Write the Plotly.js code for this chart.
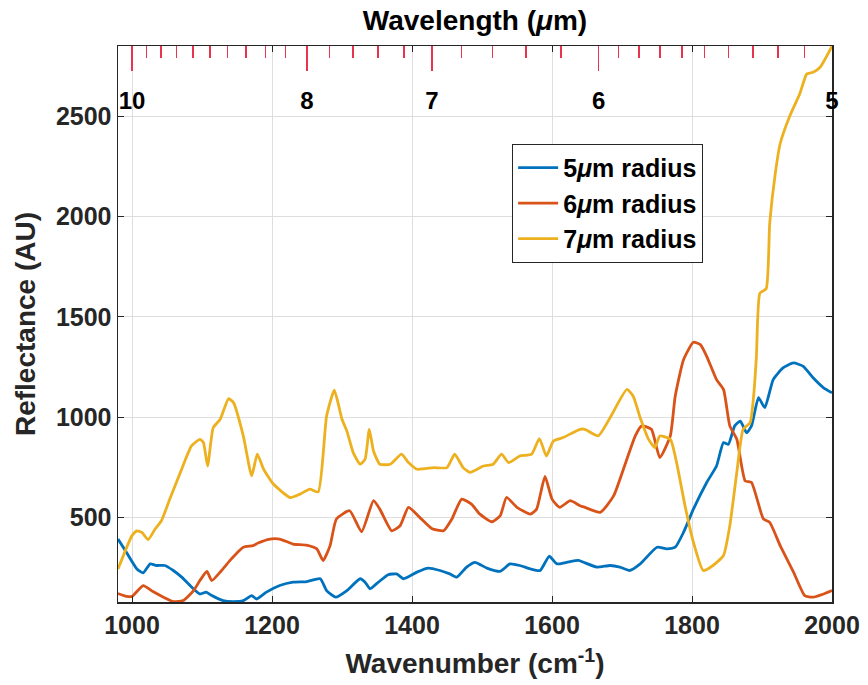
<!DOCTYPE html>
<html>
<head>
<meta charset="utf-8">
<script src="https://cdn.plot.ly/plotly-3.0.1.min.js"></script>
<style>html,body{margin:0;padding:0;background:#fff;}#chart{width:868px;height:685px;}</style>
</head>
<body>
<div id="chart"></div>
<script>
// ---- data ----
var wnBlue = [980,992,1007,1016,1026,1035,1047,1059,1071,1083,1097,1106,1114,1130,1145,1159,1171,1178,1192,1211,1230,1250,1269,1278,1291,1307,1326,1333,1340,1352,1366,1378,1388,1407,1423,1440,1454,1464,1478,1490,1507,1526,1540,1554,1569,1583,1596,1607,1621,1638,1645,1664,1683,1697,1711,1726,1750,1764,1776,1788,1802,1821,1835,1845,1852,1861,1869,1878,1885,1895,1904,1916,1930,1945,1959,1973,1988,2000];
var r5 = [392,326,243,223,268,260,260,235,202,160,118,127,110,85,80,85,110,93,127,160,177,180,194,135,102,135,194,177,144,177,214,218,194,227,247,235,218,202,252,276,247,231,268,260,243,235,306,268,276,285,276,252,260,252,235,268,351,343,351,426,541,674,756,873,864,956,980,922,956,1097,1047,1187,1245,1270,1253,1196,1146,1121];

var wnOrange = [980,992,1000,1016,1030,1045,1059,1073,1088,1097,1107,1114,1128,1142,1159,1173,1180,1197,1211,1230,1249,1264,1273,1283,1292,1311,1328,1345,1354,1371,1383,1395,1411,1428,1445,1457,1471,1485,1497,1514,1526,1535,1550,1569,1578,1590,1600,1611,1626,1640,1647,1669,1688,1702,1719,1728,1742,1754,1769,1776,1788,1802,1812,1821,1835,1845,1854,1864,1876,1885,1902,1911,1926,1945,1961,1973,1988,2000];
var r6 = [120,106,106,160,130,102,80,85,135,185,230,185,235,293,351,359,372,392,392,367,362,343,285,359,492,533,428,583,541,433,458,550,500,445,433,492,591,566,516,478,508,599,550,516,541,704,591,550,583,558,550,525,607,740,906,956,939,798,906,1104,1287,1373,1361,1303,1187,1138,956,889,682,674,492,475,359,227,110,102,118,135];

var wnYellow = [980,1000,1007,1014,1023,1033,1042,1054,1069,1085,1097,1102,1108,1116,1126,1138,1145,1159,1171,1179,1188,1202,1226,1240,1254,1266,1278,1289,1300,1307,1316,1326,1333,1339,1345,1354,1369,1385,1395,1407,1431,1450,1461,1473,1483,1502,1516,1528,1538,1554,1571,1582,1592,1602,1616,1640,1647,1666,1683,1707,1716,1726,1738,1747,1754,1769,1778,1790,1802,1816,1830,1845,1854,1864,1873,1883,1888,1892,1897,1906,1911,1919,1926,1940,1954,1964,1973,1983,2000];
var r7 = [242,409,433,425,389,442,483,591,723,856,889,873,756,947,989,1092,1072,906,707,815,740,666,599,616,641,627,1005,1134,989,930,823,765,790,939,831,765,765,815,773,740,748,748,815,748,724,756,765,815,773,806,815,893,806,881,898,939,939,906,997,1138,1104,997,889,848,906,889,773,558,376,235,260,310,458,724,939,972,1104,1300,1618,1640,1966,2215,2364,2504,2612,2711,2719,2744,2849];

var seriesNames = ['5<i>\u03bc</i>m radius','6<i>\u03bc</i>m radius','7<i>\u03bc</i>m radius'];
var seriesColors = ['#0072BD','#D95319','#EDB120'];

var wnTicks = [1000,1200,1400,1600,1800,2000];
var lambdaMajor = [10,8,7,6,5];
var lambdaMajorText = ['10','8','7','6','5'];
var lambdaMinor = [10.2,9.8,9.6,9.4,9.2,9.0,8.8,8.6,8.4,8.2,7.8,7.6,7.4,7.2,6.8,6.6,6.4,6.2,5.9,5.8,5.7,5.6,5.5,5.4,5.3,5.2,5.1];
var yTicks = [500,1000,1500,2000,2500];

// wavelength (um) -> wavenumber (cm^-1) for top-axis tick placement
function toWn(l){ return 1e4 / l; }

var FONT = 'Liberation Sans, Arial, Helvetica, sans-serif';
var TXT = '#262626';
var RED = '#e8344e';

var traces = [
  {x: wnBlue, y: r5, name: seriesNames[0], color: seriesColors[0]},
  {x: wnOrange, y: r6, name: seriesNames[1], color: seriesColors[1]},
  {x: wnYellow, y: r7, name: seriesNames[2], color: seriesColors[2]}
].map(function(s){
  return {type:'scatter', mode:'lines', x:s.x, y:s.y, name:s.name, xaxis:'x', yaxis:'y',
          line:{color:s.color, width:2.8, shape:'spline', smoothing:0.5}};
});
// empty traces bound to the top axes so they are drawn
traces.push({type:'scatter', mode:'lines', x:[980,2000], y:[null,null], xaxis:'x2', yaxis:'y', showlegend:false, hoverinfo:'skip'});
traces.push({type:'scatter', mode:'lines', x:[980,2000], y:[null,null], xaxis:'x3', yaxis:'y', showlegend:false, hoverinfo:'skip'});

var layout = {
  width: 868, height: 685,
  margin: {l:118, r:36, t:46, b:83},
  paper_bgcolor:'#fff', plot_bgcolor:'#fff',
  font: {family: FONT, color: TXT},
  showlegend: true,
  legend: {x:0.552, y:0.824, xanchor:'left', yanchor:'top', bgcolor:'#fff', bordercolor:TXT, borderwidth:1,
           font:{size:25, family:FONT, color:'#000', weight:'bold'}, tracegroupgap:0, itemwidth:40},
  xaxis: {
    range:[980,2000], tickmode:'array', tickvals:wnTicks, ticktext:wnTicks.map(String),
    ticks:'inside', ticklen:6, tickwidth:1, tickcolor:TXT,
    showline:true, linecolor:TXT, linewidth:1.5, mirror:'ticks',
    showgrid:true, gridcolor:'#dedede', gridwidth:1, zeroline:false,
    tickfont:{size:25, family:FONT, color:TXT, weight:'bold'},
    title:{text:'Wavenumber (cm<sup>-1</sup>)', font:{size:28, family:FONT, color:TXT, weight:'bold'}, standoff:16}
  },
  xaxis2: {
    overlaying:'x', side:'top', anchor:'y', range:[980,2000],
    tickmode:'array', tickvals:lambdaMajor.map(toWn), showticklabels:false,
    ticks:'inside', ticklen:25, tickwidth:1.5, tickcolor:RED,
    minor:{tickmode:'array', tickvals:lambdaMinor.map(toWn), ticks:'inside', ticklen:12, tickwidth:1.5, tickcolor:RED, showgrid:false},
    showline:true, linecolor:TXT, linewidth:1.5, showgrid:false, zeroline:false,
    title:{text:'Wavelength (<i>\u03bc</i>m)', font:{size:28, family:FONT, color:'#000', weight:'bold'}, standoff:5}
  },
  xaxis3: {
    overlaying:'x', side:'top', anchor:'free', position:0.878, range:[980,2000],
    tickmode:'array', tickvals:lambdaMajor.map(toWn), ticktext:lambdaMajorText,
    ticks:'', showline:false, showgrid:false, zeroline:false,
    tickfont:{size:24, family:FONT, color:'#000', weight:'bold'}
  },
  yaxis: {
    range:[78,2850], tickmode:'array', tickvals:yTicks, ticktext:yTicks.map(String),
    ticks:'inside', ticklen:6, tickwidth:1, tickcolor:TXT,
    showline:true, linecolor:TXT, linewidth:1.5, mirror:'ticks',
    showgrid:true, gridcolor:'#dedede', gridwidth:1, zeroline:false,
    tickfont:{size:25, family:FONT, color:TXT, weight:'bold'},
    title:{text:'Reflectance (AU)', font:{size:28, family:FONT, color:TXT, weight:'bold'}, standoff:12}
  }
};

Plotly.newPlot('chart', traces, layout, {displayModeBar:false, staticPlot:true});
</script>
</body>
</html>
